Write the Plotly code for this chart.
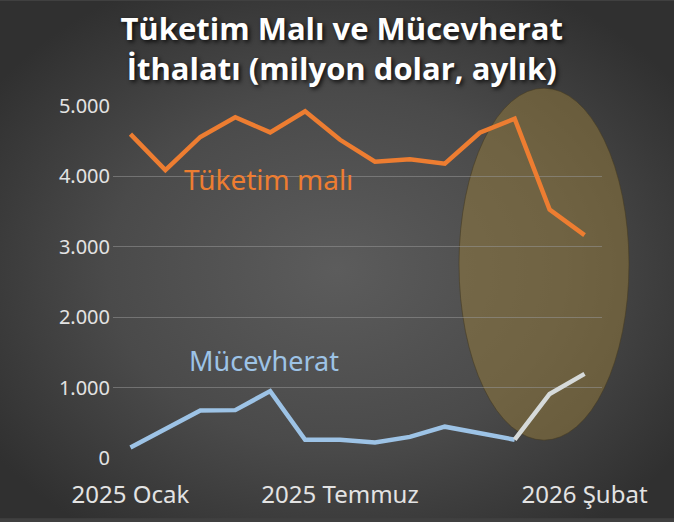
import base64
import plotly.graph_objects as go

months = ["2025 Ocak", "2025 Şubat", "2025 Mart", "2025 Nisan", "2025 Mayıs",
          "2025 Haziran", "2025 Temmuz", "2025 Ağustos", "2025 Eylül", "2025 Ekim",
          "2025 Kasım", "2025 Aralık", "2026 Ocak", "2026 Şubat"]
tuketim_mali = [4600, 4090, 4560, 4840, 4625, 4925, 4520, 4210, 4245, 4180,
                4620, 4820, 3530, 3165]
mucevherat = [150, 410, 675, 680, 950, 260, 260, 220, 300, 445, 350, 260, 910, 1195]
tick_labels = ["2025 Ocak", "2025 Temmuz", "2026 Şubat"]
tick_idx = [0, 6, 13]
y_ticks = [0, 1000, 2000, 3000, 4000, 5000]
y_tick_text = ["0", "1.000", "2.000", "3.000", "4.000", "5.000"]

W, H = 674, 522
L, R, T, B = 113, 72, 106, 61
pw, ph = W - L - R, H - T - B

svg = f'''<svg xmlns="http://www.w3.org/2000/svg" width="{W}" height="{H}">
<defs><radialGradient id="g" cx="50%" cy="52%" r="62%">
<stop offset="0" stop-color="#5c5c5c"/><stop offset="0.55" stop-color="#4a4a4a"/>
<stop offset="1" stop-color="#303030"/></radialGradient></defs>
<rect width="{W}" height="{H}" fill="url(#g)"/></svg>'''
bg_uri = "data:image/svg+xml;base64," + base64.b64encode(svg.encode()).decode()

fig = go.Figure()
fig.add_trace(go.Scatter(x=months, y=tuketim_mali, mode="lines",
                         line=dict(color="#ED7D31", width=4.5), hoverinfo="skip"))
fig.add_trace(go.Scatter(x=months[:12], y=mucevherat[:12], mode="lines",
                         line=dict(color="#9DC3E6", width=4.5), hoverinfo="skip"))
fig.add_trace(go.Scatter(x=months[11:], y=mucevherat[11:], mode="lines",
                         line=dict(color="#D6DADA", width=4.5), hoverinfo="skip"))

def px(x):
    return (x - L) / pw

def py(y):
    return (H - B - y) / ph

fig.add_shape(type="circle", xref="paper", yref="paper",
              x0=px(459), x1=px(629), y0=py(443), y1=py(88),
              fillcolor="rgba(150,124,60,0.5)",
              line=dict(color="rgba(70,60,35,0.6)", width=1), layer="below")

fig.add_annotation(x=3.94, y=3960, text="Tüketim malı", showarrow=False,
                   font=dict(family="Noto Sans", size=28, color="#ED7D31"))
fig.add_annotation(x=3.82, y=1380, text="Mücevherat", showarrow=False,
                   font=dict(family="Noto Sans", size=27, color="#9DC3E6"))

fig.add_layout_image(dict(source=bg_uri, xref="paper", yref="paper",
                          x=-L / pw, y=(H - B) / ph, sizex=W / pw, sizey=H / ph,
                          sizing="stretch", xanchor="left", yanchor="top",
                          layer="below"))

fig.update_layout(
    width=W, height=H,
    margin=dict(l=L, r=R, t=T, b=B),
    paper_bgcolor="#404040", plot_bgcolor="rgba(0,0,0,0)",
    showlegend=False,
    title=dict(text="Tüketim Malı ve Mücevherat<br>İthalatı (milyon dolar, aylık)",
               x=0.507, xanchor="center", xref="container",
               y=1 - 40 / H, yanchor="middle", yref="container",
               font=dict(family="Open Sans", size=31, color="#ffffff", weight="bold",
                         shadow="2px 2px 4px rgba(0,0,0,0.8)")),
    xaxis=dict(type="category", range=[-0.5, 13.5], showgrid=False, zeroline=False,
               showline=False, tickmode="array",
               tickvals=[months[i] for i in tick_idx], ticktext=tick_labels,
               ticks="", ticklabelstandoff=20,
               tickfont=dict(family="Noto Sans", size=24, color="#E3E3E3")),
    yaxis=dict(range=[0, 5000], tickvals=y_ticks, ticktext=y_tick_text,
               showgrid=True, gridcolor="rgba(150,150,150,0.55)", gridwidth=1,
               zeroline=False, showline=False, ticks="", ticklabelstandoff=2,
               tickfont=dict(family="Noto Sans", size=20, color="#E3E3E3")),
)

fig.write_html("out.html", config={"displayModeBar": False},
               post_script="document.body.style.margin='0';")
